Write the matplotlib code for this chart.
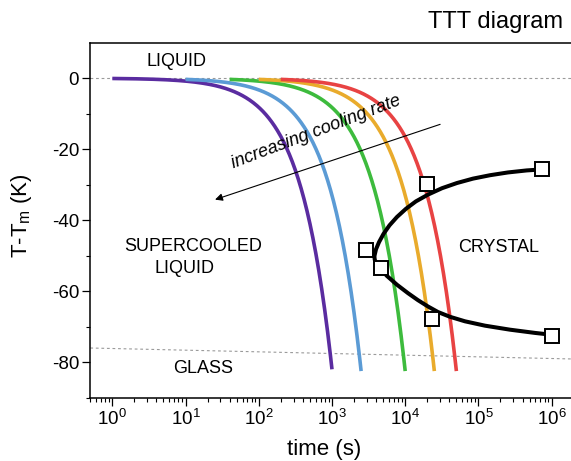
import numpy as np
import matplotlib
matplotlib.use("Agg")
import matplotlib.pyplot as plt
from matplotlib.ticker import LogLocator, NullFormatter

plt.rcParams['font.family'] = ['Liberation Sans', 'DejaVu Sans']
plt.rcParams['mathtext.fontset'] = 'custom'
plt.rcParams['mathtext.rm'] = 'Liberation Sans'
plt.rcParams['mathtext.it'] = 'Liberation Sans:italic'
plt.rcParams['mathtext.default'] = 'regular'
plt.rcParams['axes.unicode_minus'] = False

# Cooling curves (constant cooling rate), fastest first
cool_colors = ['#5a2ca0', '#5b9bd5', '#3dbb3d', '#e9ab2c', '#e84343']
cool_start_time = [1, 10, 40, 100, 200]            # s
cool_end_time = [1000, 2500, 1.0e4, 2.5e4, 5.0e4]  # s
cool_end_temp = [-82.0, -82.5, -82.5, -82.5, -82.5]  # K below Tm

# TTT nose curve, traced from the upper branch round to the lower branch
ttt_time = [7.31e5, 4.56e5, 2.53e5, 1.44e5, 8.43e4, 5.09e4, 3.18e4, 2.05e4,
            1.40e4, 1.025e4, 7.72e3, 6.10e3, 5.05e3, 4.39e3, 3.99e3, 3.82e3,
            3.80e3, 3.84e3, 3.99e3, 4.45e3, 5.64e3, 7.72e3, 1.09e4, 1.49e4,
            2.05e4, 2.80e4, 4.09e4, 6.55e4, 1.23e5, 2.70e5, 5.92e5, 1.0e6]
ttt_temp = [-25.70, -25.98, -26.55, -27.33, -28.29, -29.53, -30.99, -32.79,
            -34.70, -36.78, -39.09, -41.45, -43.87, -46.18, -48.20, -49.89,
            -50.31, -51.15, -52.00, -53.37, -55.71, -58.18, -60.54, -62.51,
            -64.31, -65.86, -67.21, -68.48, -69.71, -70.84, -71.75, -72.27]

# Measured crystallisation onsets
meas_time = [2.0e4, 7.45e5, 2.9e3, 4.6e3, 2.35e4, 1.0e6]
meas_temp = [-29.7, -25.7, -48.5, -53.6, -67.7, -72.6]

# Melting line and glass transition line
melt_time = [0.5, 2.0e6]
melt_temp = [0.0, 0.0]
glass_time = [0.5, 2.0e6]
glass_temp = [-76.0, -79.1]

# Cooling-rate arrow (tail -> head)
arrow_tail = (3.0e4, -13.0)
arrow_head = (25.3, -34.2)

x_major = [1e0, 1e1, 1e2, 1e3, 1e4, 1e5, 1e6]
y_major = [0, -20, -40, -60, -80]
y_minor = [-10, -30, -50, -70, -90]

fig = plt.figure(figsize=(5.71, 4.61), dpi=100)
ax = fig.add_axes([0.1581, 0.1373, 0.8466, 0.7701])
ax.set_xscale('log')
ax.set_xlim(0.5, 2.0e6)
ax.set_ylim(-90, 10)

ax.plot(melt_time, melt_temp, color='#9a9a9a', lw=0.8,
        linestyle=(0, (2.5, 2.5)), zorder=1)
ax.plot(glass_time, glass_temp, color='#9a9a9a', lw=0.8,
        linestyle=(0, (2.5, 2.5)), zorder=1)

# Constant-rate cooling is a straight line in linear time; sample it densely
# so it bends correctly on the logarithmic time axis.
for c, t0, t1, T1 in zip(cool_colors, cool_start_time, cool_end_time, cool_end_temp):
    t = np.geomspace(t0, t1, 300)
    ax.plot(t, T1 * t / t1, color=c, lw=2.6, solid_capstyle='butt', zorder=2)

ax.plot(ttt_time, ttt_temp, color='black', lw=2.9, solid_joinstyle='round',
        solid_capstyle='round', zorder=3)
ax.plot(meas_time, meas_temp, linestyle='none', marker='s', markersize=9.5,
        markerfacecolor='white', markeredgecolor='black', markeredgewidth=1.4,
        zorder=4)

ax.annotate('', xy=arrow_head, xytext=arrow_tail,
            arrowprops=dict(arrowstyle='-|>', lw=0.8, color='black',
                            mutation_scale=11, shrinkA=0, shrinkB=0))
ax.text(632, -16.4, 'increasing cooling rate', fontsize=13, style='italic',
        rotation=20.8, rotation_mode='anchor', ha='center', va='baseline')

region_kw = dict(fontsize=13, ha='center', va='baseline')
ax.text(7.41, 3.54, 'LIQUID', **region_kw)
ax.text(12.65, -48.7, 'SUPERCOOLED', **region_kw)
ax.text(9.53, -54.75, 'LIQUID', **region_kw)
ax.text(17.3, -83.15, 'GLASS', **region_kw)
ax.text(1.91e5, -48.96, 'CRYSTAL', **region_kw)

ax.set_xticks(x_major)
ax.xaxis.set_minor_locator(LogLocator(base=10, subs=np.arange(2, 10), numticks=20))
ax.xaxis.set_minor_formatter(NullFormatter())
ax.set_yticks(y_major)
ax.set_yticks(y_minor, minor=True)
ax.tick_params(axis='both', which='major', direction='out', length=6,
               width=0.9, labelsize=13.5, pad=2)
ax.tick_params(axis='both', which='minor', direction='out', length=3,
               width=0.8)

for s in ['left', 'bottom', 'top']:
    ax.spines[s].set_linewidth(1.1)
ax.spines['right'].set_visible(False)

fig.text(22 / 571, 1 - 215.5 / 461, 'T-T$_m$ (K)', fontsize=16,
         rotation=90, ha='center', va='center')
fig.text(323.7 / 571, 1 - 449 / 461, 'time (s)', fontsize=16,
         ha='center', va='center')
fig.text(563 / 571, 1 - 28.3 / 461, 'TTT diagram', fontsize=17,
         ha='right', va='baseline')

fig.savefig('out.png', dpi=100)
